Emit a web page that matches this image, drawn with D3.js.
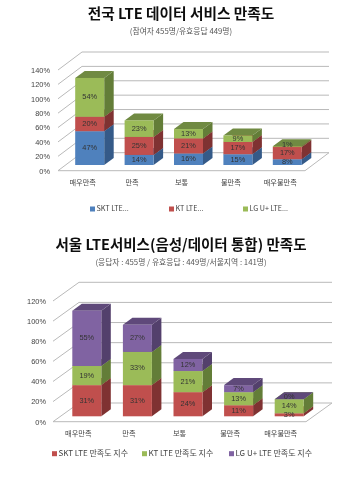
<!DOCTYPE html>
<html>
<head>
<meta charset="utf-8">
<script src="https://cdn.jsdelivr.net/npm/d3@7"></script>
<style>
  html, body { margin: 0; padding: 0; background: #fff; }
  svg { display: block; }
  text { font-family: "Noto Sans CJK KR", sans-serif; }
</style>
</head>
<body>
<div id="frame"></div>
<script>
// values
const categories = ["매우만족", "만족", "보통", "불만족", "매우불만족"];

const nationSkt = [47, 14, 16, 15, 8];
const nationKt = [20, 25, 21, 17, 17];
const nationLg = [54, 23, 13, 9, 1];
const nationTicks = [0, 20, 40, 60, 80, 100, 120, 140];
const nationLegend = ["SKT LTE...", "KT LTE...", "LG U+ LTE..."];

const seoulSkt = [31, 31, 24, 11, 3];
const seoulKt = [19, 33, 21, 13, 14];
const seoulLg = [55, 27, 12, 7, 0];
const seoulTicks = [0, 20, 40, 60, 80, 100, 120];
const seoulLegend = ["SKT LTE 만족도 지수", "KT LTE 만족도 지수", "LG U+ LTE 만족도 지수"];

const blue = { front: "#4f81bd", side: "#345a88", top: "#41699b" };
const red = { front: "#c0504d", side: "#7f3230", top: "#9c403e" };
const green = { front: "#9bbb59", side: "#647d38", top: "#6f8a42" };
const purple = { front: "#8064a2", side: "#53406c", top: "#5f4a7a" };

const width = 363, height = 480;

const svg = d3.select("#frame").append("svg")
  .attr("width", width)
  .attr("height", height);

const defs = svg.append("defs");
defs.append("filter").attr("id", "soft")
  .attr("x", "-5%").attr("y", "-5%").attr("width", "110%").attr("height", "110%")
  .append("feGaussianBlur").attr("stdDeviation", 0.4);

const page = svg.append("g").attr("filter", "url(#soft)");

function drawChart(c) {
  const g = page.append("g");

  g.append("text").attr("x", c.titleX).attr("y", c.titleY)
    .attr("text-anchor", "middle").attr("dominant-baseline", "middle")
    .style("font-size", c.titleSize + "px").style("font-weight", 700).attr("fill", "#111")
    .text(c.title);
  g.append("text").attr("x", c.titleX).attr("y", c.subY)
    .attr("text-anchor", "middle").attr("dominant-baseline", "middle")
    .style("font-size", "7.8px").attr("fill", "#555")
    .text(c.subtitle);

  const y = d3.scaleLinear().domain(c.domain).range(c.yRange);
  const x = d3.scaleBand().domain(categories).range(c.xRange);
  const barW = 29;
  const dx = c.wallDx, dy = c.wallDy;

  // walls and floor
  const grid = g.append("g").attr("fill", "none").attr("stroke", "#b9b9b9").attr("stroke-width", 1);
  c.ticks.forEach((t) => {
    const py = y(t);
    grid.append("path").attr("d", d3.line()([
      [c.xRange[0], py],
      [c.xRange[0] + dx, py - dy],
      [c.xRange[1] + dx, py - dy],
    ]));
  });
  grid.append("path").attr("d", d3.line()([
    [c.xRange[0], y(0)],
    [c.xRange[1], y(0)],
    [c.xRange[1] + dx, y(0) - dy],
  ]));

  // y axis, labels only
  const axis = g.append("g")
    .attr("transform", `translate(${c.axisX},0)`)
    .call(d3.axisLeft(y).tickValues(c.ticks).tickFormat((d) => d + "%").tickSize(0).tickPadding(0));
  axis.select(".domain").remove();
  axis.selectAll("text").style("font-size", "7.4px").attr("fill", "#444")
    .style("font-family", '"Liberation Sans", sans-serif');

  // stacked 3d bars
  const stack = d3.stack().keys(d3.range(c.series.length)).value((d, k) => d[k]);
  const rows = categories.map((_, i) => c.series.map((s) => s[i]));
  const layers = stack(rows);
  const bdx = 9.5, bdy = 7;

  layers.forEach((layer, k) => {
    const col = c.colors[k];
    layer.forEach((d, i) => {
      const x0 = x(categories[i]) + (x.bandwidth() - barW) / 2 + c.barDx;
      const x1 = x0 + barW;
      const y0 = y(d[0]) - c.barDy;
      const y1 = y(d[1]) - c.barDy;
      const bar = g.append("g");
      bar.append("path").attr("fill", col.side)
        .attr("d", d3.line()([[x1, y0], [x1 + bdx, y0 - bdy], [x1 + bdx, y1 - bdy], [x1, y1]]) + "Z");
      bar.append("path").attr("fill", col.top)
        .attr("d", d3.line()([[x0, y1], [x1, y1], [x1 + bdx, y1 - bdy], [x0 + bdx, y1 - bdy]]) + "Z");
      bar.append("rect").attr("x", x0).attr("y", y1)
        .attr("width", barW).attr("height", y0 - y1).attr("fill", col.front);
    });
  });
  // value labels on top of every bar
  layers.forEach((layer, k) => {
    layer.forEach((d, i) => {
      const x0 = x(categories[i]) + (x.bandwidth() - barW) / 2 + c.barDx;
      const val = c.series[k][i];
      // very thin segments: lift the label so it clears the one below
      const lift = val <= 1 ? 2 : 0;
      g.append("text")
        .attr("x", x0 + barW / 2)
        .attr("y", (y(d[0]) + y(d[1])) / 2 - c.barDy - lift)
        .attr("text-anchor", "middle").attr("dominant-baseline", "middle")
        .style("font-size", "7.4px").style("font-family", '"Liberation Sans", sans-serif')
        .attr("fill", "#333")
        .text(val + "%");
    });
  });

  // category labels
  categories.forEach((name) => {
    g.append("text")
      .attr("x", x(name) + x.bandwidth() / 2 + c.catDx)
      .attr("y", c.catY)
      .attr("text-anchor", "middle").attr("dominant-baseline", "middle")
      .style("font-size", "7.2px").attr("fill", "#444")
      .text(name);
  });

  // legend
  c.legend.forEach((name, k) => {
    g.append("rect").attr("x", c.legendX[k]).attr("y", c.legendY - 2.5)
      .attr("width", 5).attr("height", 5).attr("fill", c.colors[k].front);
    g.append("text").attr("x", c.legendX[k] + 6.5).attr("y", c.legendY)
      .attr("dominant-baseline", "middle")
      .style("font-size", c.legendSize + "px").attr("fill", "#444")
      .text(name);
  });
}

drawChart({
  title: "전국 LTE 데이터 서비스 만족도",
  subtitle: "(참여자 455명/유효응답 449명)",
  titleX: 181, titleY: 15, subY: 32, titleSize: 14.7,
  series: [nationSkt, nationKt, nationLg],
  colors: [blue, red, green],
  ticks: nationTicks, domain: [0, 140], yRange: [170.7, 70],
  xRange: [58, 305], axisX: 50,
  wallDx: 24, wallDy: 18, barDx: 7, barDy: 5.7,
  catY: 183, catDx: 0,
  legend: nationLegend, legendX: [90, 169, 243], legendY: 209, legendSize: 7.2,
});

drawChart({
  title: "서울 LTE서비스(음성/데이터 통합) 만족도",
  subtitle: "(응답자 : 455명 / 유효응답 : 449명/서울지역 : 141명)",
  titleX: 181, titleY: 246, subY: 263, titleSize: 14.5,
  series: [seoulSkt, seoulKt, seoulLg],
  colors: [red, green, purple],
  ticks: seoulTicks, domain: [0, 120], yRange: [421.7, 301],
  xRange: [53, 306], axisX: 46,
  wallDx: 26, wallDy: 18.7, barDx: 8.5, barDy: 5.4,
  catY: 434, catDx: 0,
  legend: seoulLegend, legendX: [52, 142, 229], legendY: 453.7, legendSize: 8,
});
</script>
</body>
</html>
